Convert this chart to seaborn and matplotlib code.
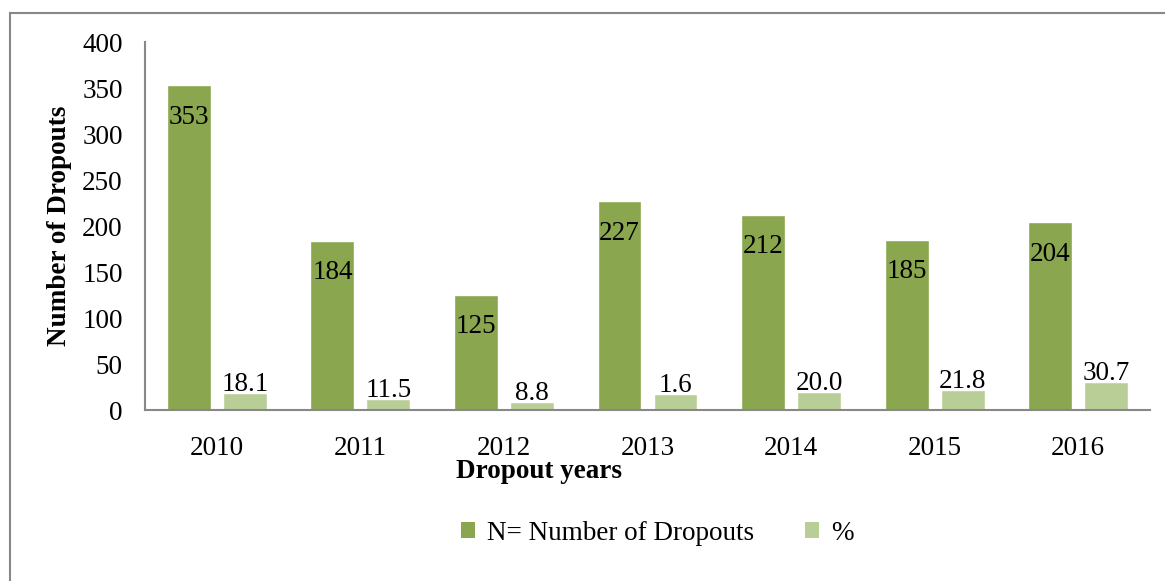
import matplotlib
matplotlib.use("Agg")
import matplotlib.pyplot as plt
import seaborn as sns
import pandas as pd
from matplotlib.patches import Patch, Rectangle

years = ["2010", "2011", "2012", "2013", "2014", "2015", "2016"]
dropouts = [353, 184, 125, 227, 212, 185, 204]
pct_bars = [18.1, 11.5, 8.8, 17.0, 20.0, 21.8, 30.7]
pct_labels = ["18.1", "11.5", "8.8", "1.6", "20.0", "21.8", "30.7"]
series = ["N= Number of Dropouts", "%"]
colors = ["#8AA64E", "#B9CE97"]

df = pd.DataFrame({
    "year": years * 2,
    "value": dropouts + pct_bars,
    "series": [series[0]] * len(years) + [series[1]] * len(years),
})

sns.set_style("white")
plt.rcParams["font.family"] = ["Liberation Serif", "DejaVu Serif"]
plt.rcParams["text.color"] = "black"
plt.rcParams["axes.labelcolor"] = "black"
plt.rcParams["xtick.color"] = "black"
plt.rcParams["ytick.color"] = "black"
FS = 19.5

W, H = 1165, 581
fig = plt.figure(figsize=(W / 100, H / 100), dpi=100)
ax = fig.add_axes([145 / W, 1 - 410 / H, (1150 - 145) / W, (410 - 42) / H])

sns.barplot(data=df, x="year", y="value", hue="series", hue_order=series,
            palette=colors, width=0.78, gap=0.215, saturation=1,
            legend=False, ax=ax)

ax.set_xlim(-0.5, 6.5)
ax.set_ylim(0, 400)
ax.set_yticks(range(0, 401, 50))
ax.tick_params(axis="both", length=0, labelsize=FS, labelcolor="black")
ax.tick_params(axis="y", pad=16)
ax.tick_params(axis="x", pad=19)

for s in ["top", "right"]:
    ax.spines[s].set_visible(False)
for s in ["left", "bottom"]:
    ax.spines[s].set_color("#888888")
    ax.spines[s].set_linewidth(1.5)

ax.set_ylabel("Number of Dropouts", fontsize=FS, fontweight="bold", color="black")
ax.yaxis.label.set_va("center")
ax.yaxis.set_label_coords((60 - 145) / (1150 - 145), 0.5)
ax.set_xlabel("Dropout years", fontsize=FS, fontweight="bold", color="black")
ax.xaxis.set_label_coords((539 - 145) / (1150 - 145), -(472 - 410) / (410 - 42))
ax.xaxis.label.set_va("center")

cont_dark, cont_light = ax.containers[0], ax.containers[1]
for rect, v in zip(cont_dark, dropouts):
    ax.annotate(str(v), (rect.get_x() + rect.get_width() / 2, rect.get_height()),
                xytext=(0, -14), textcoords="offset points",
                ha="center", va="top", fontsize=FS, color="black")
for rect, lab in zip(cont_light, pct_labels):
    ax.annotate(lab, (rect.get_x() + rect.get_width() / 2, rect.get_height()),
                xytext=(0, 1.5), textcoords="offset points",
                ha="center", va="baseline", fontsize=FS, color="black")

handles = [Patch(facecolor=c, edgecolor="none") for c in colors]
leg = fig.legend(handles, series, loc="center left",
                 bbox_to_anchor=(461 / W, 1 - 533 / H), ncol=2, frameon=False,
                 fontsize=FS, handlelength=0.5, handleheight=0.5,
                 handletextpad=0.45, columnspacing=1.9, borderaxespad=0,
                 borderpad=0)
for t in leg.get_texts():
    t.set_color("black")

fig.patches.append(Rectangle((10 / W, -0.1), 1.2, 1 - 13 / H + 0.1,
                             transform=fig.transFigure, fill=False,
                             edgecolor="#888888", linewidth=1.5, zorder=-1))

fig.savefig("out.png", dpi=100)
